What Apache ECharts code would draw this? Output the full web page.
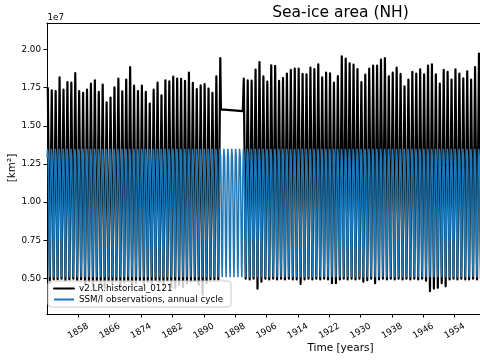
<!DOCTYPE html>
<html><head><meta charset="utf-8">
<script src="https://cdn.jsdelivr.net/npm/echarts@6/dist/echarts.min.js"></script>
<style>html,body{margin:0;padding:0;background:#fff}#c{width:480px;height:360px}</style>
</head><body><div id="c"></div>
<script>
const titleText = 'Sea-ice area (NH)';
const xAxisTitle = 'Time [years]';
const yAxisTitle = '[km\u00b2]';
const yOffsetText = '1e7';
const seriesNames = ['v2.LR.historical_0121', 'SSM/I observations, annual cycle'];
const xTickYears = [1858, 1866, 1874, 1882, 1890, 1898, 1906, 1914, 1922, 1930, 1938, 1946, 1954];
const yTickValues = [5e6, 7.5e6, 10e6, 12.5e6, 15e6, 17.5e6, 20e6];

function yearRange(a, b) { const r = []; for (let y = a; y <= b; y++) r.push(y); return r; }
const modelYears = yearRange(1850, 1894).concat(yearRange(1900, 1960));

// annual maximum (March) of the model, 1e6 km^2
const modelPeaks = [
  17.47, 17.32, 17.27, 18.17, 17.36, 17.86, 17.82, 18.45, 17.27, 17.16,
  17.36, 17.75, 17.97, 17.21, 17.69, 16.53, 16.84, 17.51, 18.08, 17.25,
  18.02, 18.84, 17.62, 17.27, 17.62, 17.21, 16.45, 17.36, 17.82, 16.99,
  17.97, 17.90, 18.21, 18.08, 18.06, 17.93, 18.47, 17.80, 17.40, 17.64,
  17.73, 17.43, 17.16, 18.23, 19.43,
  18.08, 17.97, 17.95, 18.67, 19.17, 18.23, 17.89, 18.95, 18.91, 17.93,
  18.12, 18.41, 18.65, 18.73, 18.73, 18.39, 18.37, 18.80, 18.71, 19.02,
  18.17, 18.47, 18.43, 17.82, 18.25, 19.54, 19.39, 19.08, 19.00, 18.71,
  17.86, 18.34, 18.73, 18.93, 18.93, 19.32, 19.43, 18.23, 18.47, 18.80,
  18.39, 17.58, 18.02, 18.52, 18.41, 18.69, 18.36, 18.93, 19.02, 18.36,
  17.75, 18.65, 18.52, 18.02, 18.69, 18.41, 18.10, 18.56, 18.02, 18.84,
  19.72
];
// annual minimum (September) of the model, 1e6 km^2 (null: no data, gap follows)
const modelTroughs = [
  4.70, 4.95, 4.95, 5.00, 4.90, 4.95, 5.00, 4.90, 4.95, 4.60,
  4.80, 4.50, 4.85, 4.70, 4.40, 4.80, 4.60, 4.90, 4.55, 4.75,
  4.85, 4.50, 4.70, 4.90, 4.60, 4.80, 4.65, 4.90, 4.75, 4.55,
  4.85, 4.45, 4.40, 4.60, 4.45, 4.70, 4.80, 4.85, 4.60, 3.95,
  4.70, 4.95, 4.95, 4.95, null,
  5.00, 4.95, 5.00, 4.35, 4.80, 5.00, 4.95, 5.00, 4.95, 5.00,
  4.95, 5.00, 4.95, 4.95, 4.66, 4.95, 5.00, 4.95, 5.00, 4.95,
  5.00, 4.95, 4.70, 4.70, 4.95, 5.00, 4.95, 5.00, 4.95, 5.00,
  4.80, 4.90, 5.00, 4.70, 4.95, 5.00, 4.95, 5.00, 4.95, 5.00,
  4.95, 5.00, 4.95, 5.00, 4.95, 5.00, 4.87, 4.18, 4.35, 4.40,
  4.70, 4.50, 4.95, 5.00, 4.95, 5.00, 4.95, 4.95, 5.00, 4.95,
  5.00
];
const peakMonth = 3, troughMonth = 9;
const gapStart = { year: 1894, month: 5, value: 16.07 };
const gapEnd = { year: 1899, month: 12, value: 15.96 };

// SSM/I observed monthly climatology, Jan..Dec, 1e6 km^2
const obsCycle = [12.9, 13.5, 13.6, 13.0, 11.8, 10.0, 7.7, 5.8, 5.1, 6.6, 9.2, 11.3];
const obsYears = yearRange(1850, 1960);

const t = (y, m) => y + (m - 0.5) / 12;
const modelData = [];
modelYears.forEach((yr, i) => {
  modelData.push([t(yr, peakMonth), modelPeaks[i] * 1e6]);
  if (modelTroughs[i] === null) {
    modelData.push([t(gapStart.year, gapStart.month), gapStart.value * 1e6]);
    modelData.push([t(gapEnd.year, gapEnd.month), gapEnd.value * 1e6]);
  } else {
    modelData.push([t(yr, troughMonth), modelTroughs[i] * 1e6]);
  }
});
const obsData = [];
obsYears.forEach(yr => obsCycle.forEach((v, k) => obsData.push([t(yr, k + 1), v * 1e6])));

const FONT = '"DejaVu Sans", sans-serif';
const chart = echarts.init(document.getElementById('c'), null, { renderer: 'canvas' });
chart.setOption({
  animation: false,
  backgroundColor: '#fff',
  grid: { left: 47, right: 0, top: 23, bottom: 46, containLabel: false },
  xAxis: [{
    type: 'value', min: 1850, max: 1960.47,
    axisLine: { show: true, lineStyle: { color: '#000', width: 1 } },
    axisTick: { show: true, length: 3.5, inside: false, customValues: xTickYears, lineStyle: { color: '#000' } },
    axisLabel: { show: true, customValues: xTickYears, rotate: 30, align: 'center', verticalAlign: 'middle', margin: 17,
      fontSize: 8.75, fontFamily: FONT, color: '#000', formatter: v => String(Math.round(v)) },
    splitLine: { show: false }
  }, {
    type: 'value', min: 1850, max: 1960.47, position: 'top',
    axisLine: { show: true, onZero: false, lineStyle: { color: '#000', width: 1 } },
    axisTick: { show: false }, axisLabel: { show: false }, splitLine: { show: false }
  }],
  yAxis: {
    type: 'value', min: 2.69e6, max: 21.72e6,
    axisLine: { show: true, lineStyle: { color: '#000', width: 1 } },
    axisTick: { show: true, length: 3.5, customValues: yTickValues, lineStyle: { color: '#000' } },
    axisLabel: { show: true, customValues: yTickValues, margin: 6, fontSize: 8.75, fontFamily: FONT, color: '#000',
      formatter: v => (v / 1e7).toFixed(2) },
    splitLine: { show: false }
  },
  legend: {
    left: 48, top: 281, orient: 'vertical', itemGap: 2, itemWidth: 20, itemHeight: 9,
    padding: [3, 8, 3, 5],
    backgroundColor: 'rgba(255,255,255,0.8)', borderColor: '#cccccc', borderWidth: 1, borderRadius: 3,
    itemStyle: { opacity: 0 },
    textStyle: { fontSize: 8.75, fontFamily: FONT, color: '#000' },
    data: seriesNames
  },
  series: [{
    name: seriesNames[0], type: 'line', data: modelData, symbol: 'none', showSymbol: false,
    lineStyle: { color: '#000', width: 2.2, join: 'round', cap: 'round' }, itemStyle: { color: '#000' },
    clip: true, z: 2
  }, {
    name: seriesNames[1], type: 'line', data: obsData, symbol: 'none', showSymbol: false,
    lineStyle: { color: '#1f77b4', width: 1.5 }, itemStyle: { color: '#1f77b4' },
    clip: true, z: 3
  }],
  graphic: [
    { type: 'text', x: 340.5, y: 13, style: { text: titleText, font: '15.5px ' + FONT, fill: '#000', align: 'center', verticalAlign: 'middle' } },
    { type: 'text', x: 47.5, y: 17.5, style: { text: yOffsetText, font: '8.75px ' + FONT, fill: '#000', align: 'left', verticalAlign: 'middle' } },
    { type: 'text', x: 12, y: 168, rotation: Math.PI / 2, style: { text: yAxisTitle, font: '10.5px ' + FONT, fill: '#000', align: 'center', verticalAlign: 'middle' } },
    { type: 'text', x: 340.5, y: 348, style: { text: xAxisTitle, font: '10.5px ' + FONT, fill: '#000', align: 'center', verticalAlign: 'middle' } }
  ]
});
</script></body></html>
